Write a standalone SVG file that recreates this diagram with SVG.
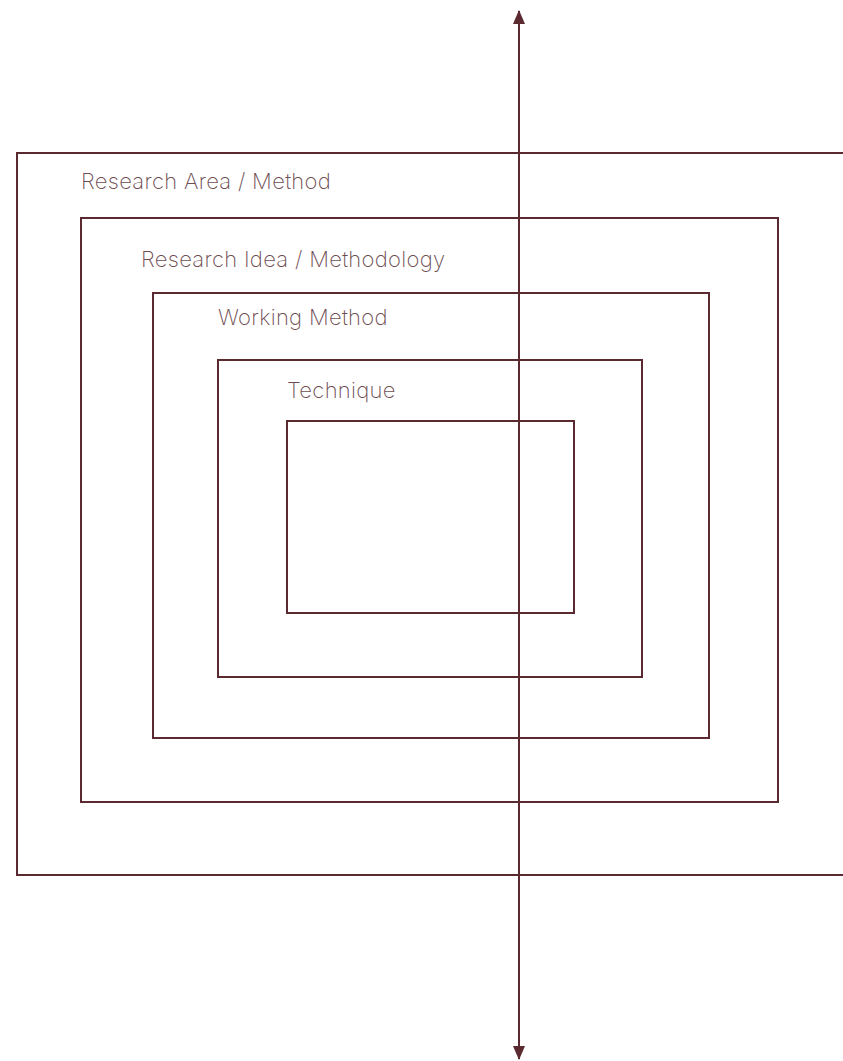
<svg xmlns="http://www.w3.org/2000/svg" width="843" height="1061" viewBox="0 0 843 1061">
<style>
.box{fill:none;stroke:#5a2a30;stroke-width:2}
.lbl{font-family:Inter,"Liberation Sans",sans-serif;font-weight:250;font-size:22px;letter-spacing:0.3px;fill:#6e4d52}
</style>
<defs>
<marker id="ah" viewBox="0 0 14 12" refX="13" refY="6" markerWidth="14" markerHeight="12" markerUnits="userSpaceOnUse" orient="auto-start-reverse">
<path d="M0,0 L14,6 L0,12 z" fill="#5a2a30"/>
</marker>
</defs>
<rect width="843" height="1061" fill="#fff"/>
<g id="n1"><rect class="box" x="17" y="153" width="840" height="722"/><text class="lbl" x="81" y="189">Research Area / Method</text></g>
<g id="n2"><rect class="box" x="81" y="218" width="697" height="584"/><text class="lbl" x="141" y="267">Research Idea / Methodology</text></g>
<g id="n3"><rect class="box" x="153" y="293" width="556" height="445"/><text class="lbl" x="218" y="325">Working Method</text></g>
<g id="n4"><rect class="box" x="218" y="360" width="424" height="317"/><text class="lbl" x="287" y="398">Technique</text></g>
<g id="n5"><rect class="box" x="287" y="421" width="287" height="192"/></g>
<g id="connectors"><line x1="519" y1="1059" x2="519" y2="11" stroke="#5a2a30" stroke-width="2" marker-start="url(#ah)" marker-end="url(#ah)"/></g>
</svg>
